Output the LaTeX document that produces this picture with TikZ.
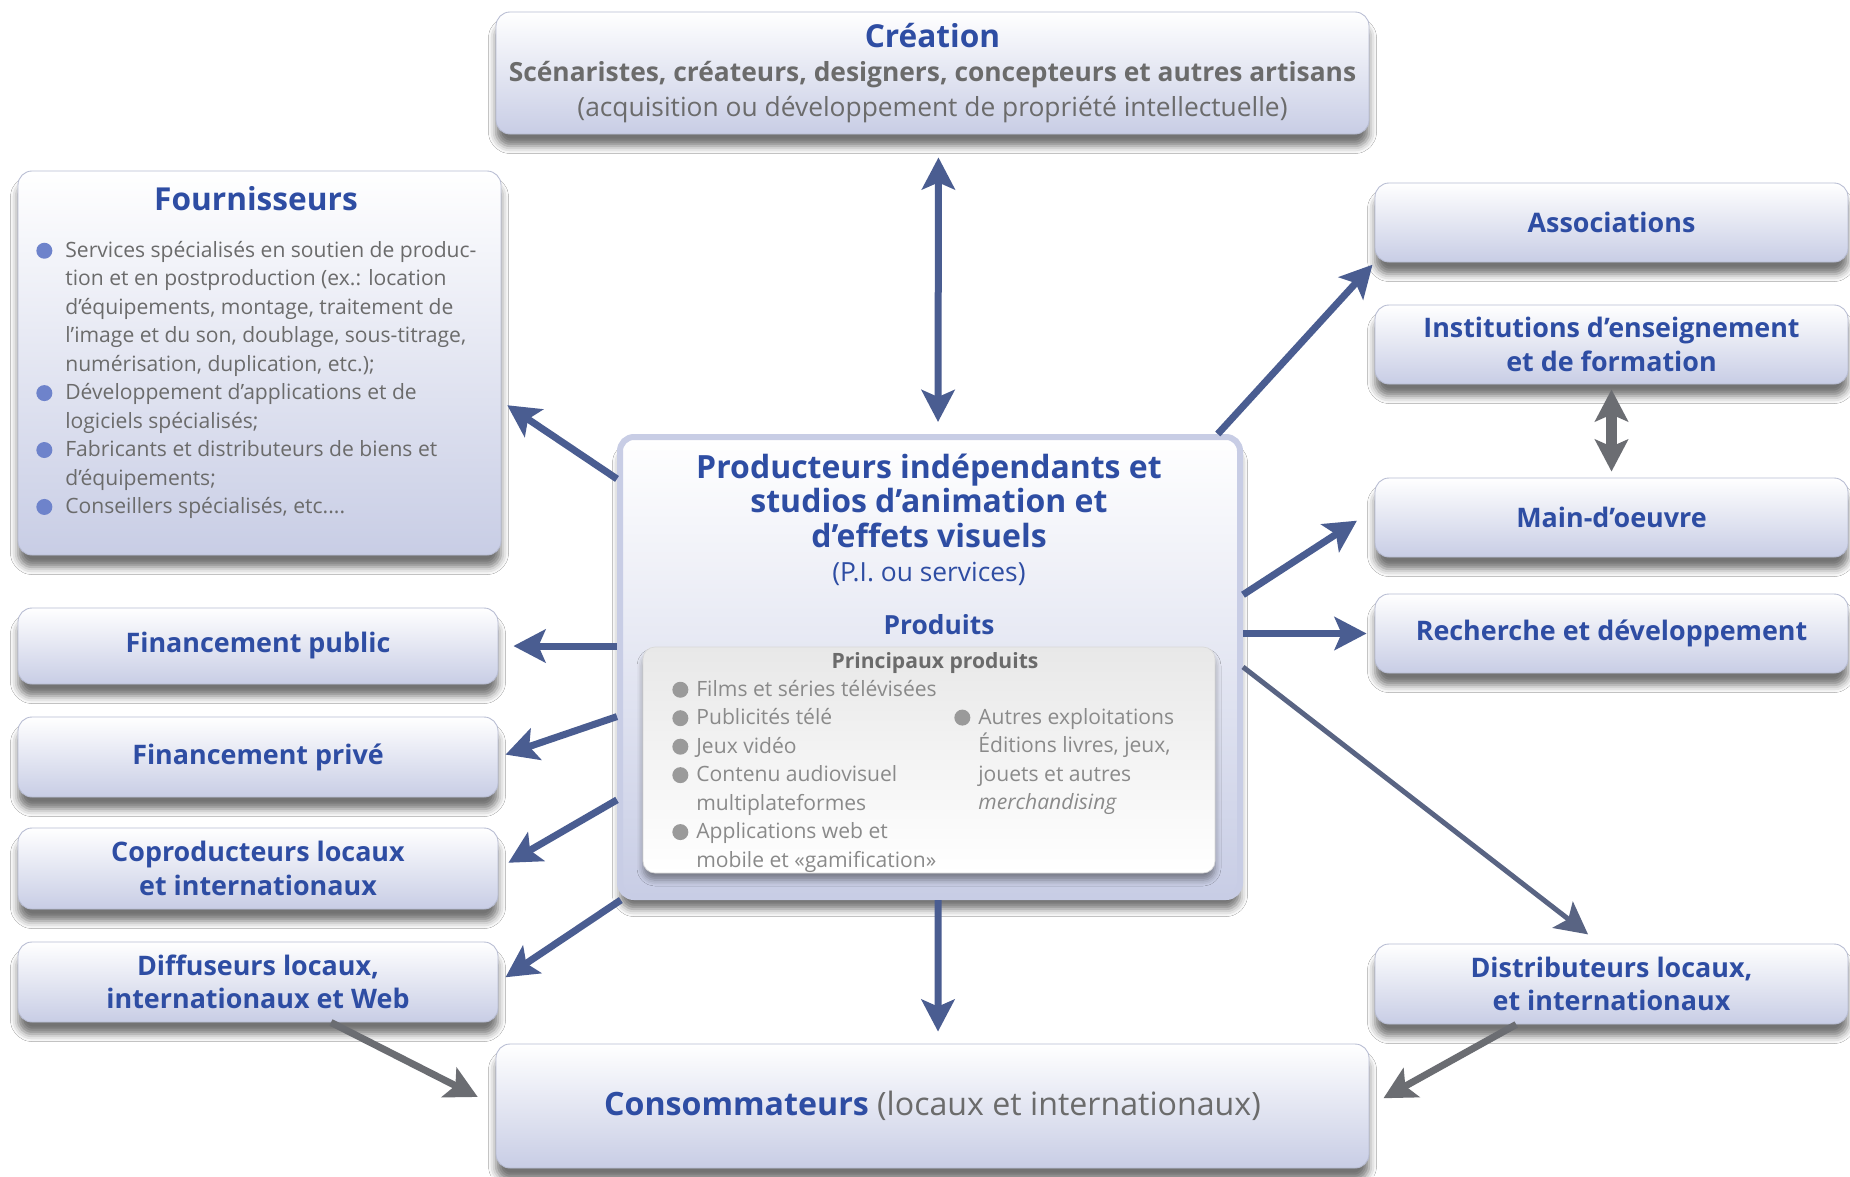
\documentclass[tikz,border=0pt]{standalone}
\usepackage{fontspec}
\setmainfont{Open Sans}
\usetikzlibrary{arrows.meta,shadows.blur}

\definecolor{bleuTitre}{HTML}{2E4DA3}
\definecolor{grisTexte}{HTML}{6B6B6B}
\definecolor{grisPale}{HTML}{8A8A8A}
\definecolor{lavande}{HTML}{C8CDE5}
\definecolor{bordBoite}{HTML}{B8BDD3}
\definecolor{flecheBleue}{HTML}{4A5D91}
\definecolor{flecheGrise}{HTML}{6B6D72}
\definecolor{puceBleue}{HTML}{6E83CB}
\definecolor{puceGrise}{HTML}{9A9A9A}

% puce ronde devant un item, retrait pour les lignes suivantes
\newcommand{\puce}[2]{\makebox[#2][l]{\tikz[baseline=-0.6ex]\fill[#1] (0,0) circle (1.6mm);}}
\newcommand{\retrait}[1]{\hspace*{#1}}

\tikzset{
  >={Stealth[length=6.4mm, width=6.6mm, inset=1.4mm]},
  boite/.style={rectangle, rounded corners=2.8mm, draw=bordBoite, line width=0.5pt,
    top color=white, bottom color=lavande,
    blur shadow={shadow xshift=0mm, shadow yshift=-2.4mm, shadow blur radius=1.5mm, shadow opacity=55},
    text=bleuTitre, align=center, inner sep=0pt,
    font=\bfseries\fontsize{15.3}{19}\selectfont},
  gauche/.style={boite, minimum width=96mm, minimum height=16mm},
  droite/.style={boite, minimum width=94.6mm, minimum height=15.8mm},
  liste/.style={anchor=north west, align=left, inner sep=0pt, text=grisTexte,
    font=\fontsize{12}{16.2}\selectfont},
  fleche/.style={draw=flecheBleue, line width=1.4mm, ->},
  flecheGr/.style={fleche, draw=flecheGrise},
}

\begin{document}
\begin{tikzpicture}[x=0.2mm, y=-0.2mm]
\fill[white] (0,0) rectangle (1850,1176);
\useasboundingbox (0,0) rectangle (1850,1176);

% Création
\node[boite, minimum width=174.6mm, minimum height=24.4mm, font=\fontsize{15}{19.6}\selectfont] (creation) at (932.5,73)
  {{\bfseries\fontsize{18}{19.6}\selectfont Création}\\
   {\bfseries\color{grisTexte}Scénaristes, créateurs, designers, concepteurs et autres artisans}\\
   {\color{grisTexte}(acquisition ou développement de propriété intellectuelle)}};

% Fournisseurs
\node[boite, minimum width=96.6mm, minimum height=76.8mm] (fournisseurs) at (259.5,363) {};
\node[text=bleuTitre, font=\bfseries\fontsize{18}{22}\selectfont] (titrefour) at (256,199) {Fournisseurs};
\node[liste] (listefour) at (36,241)
  {\puce{puceBleue}{5.8mm}Services spécialisés en soutien de produc-\\
   \retrait{5.8mm}tion et en postproduction (ex.: location\\
   \retrait{5.8mm}d’équipements, montage, traitement de\\
   \retrait{5.8mm}l’image et du son, doublage, sous-titrage,\\
   \retrait{5.8mm}numérisation, duplication, etc.);\\
   \puce{puceBleue}{5.8mm}Développement d’applications et de\\
   \retrait{5.8mm}logiciels spécialisés;\\
   \puce{puceBleue}{5.8mm}Fabricants et distributeurs de biens et\\
   \retrait{5.8mm}d’équipements;\\
   \puce{puceBleue}{5.8mm}Conseillers spécialisés, etc....};

% Partenaires à gauche
\node[gauche, minimum height=15.2mm] (finpublic) at (258,646) {Financement public};
\node[gauche] (finprive) at (258,757) {Financement privé};
\node[gauche, minimum height=16.2mm] (coprod) at (258,868.5) {Coproducteurs locaux\\et internationaux};
\node[gauche] (diffuseurs) at (258,982) {Diffuseurs locaux,\\internationaux et Web};

% Partenaires à droite
\node[droite] (associations) at (1611.5,222.5) {Associations};
\node[droite] (institutions) at (1611.5,344.5) {Institutions d’enseignement\\et de formation};
\node[droite] (maindoeuvre) at (1611.5,517.5) {Main-d’oeuvre};
\node[droite] (recherche) at (1611.5,633.5) {Recherche et développement};
\node[droite, minimum height=16mm] (distributeurs) at (1611.5,984) {Distributeurs locaux,\\et internationaux};

% Consommateurs
\node[boite, minimum width=174.6mm, minimum height=24.8mm, font=\fontsize{18.3}{22}\selectfont] (consommateurs) at (932.5,1106)
  {\textbf{Consommateurs} {\color{grisTexte}(locaux et internationaux)}};

% Producteurs et produits
\node[boite, minimum width=124mm, minimum height=92mm, draw=lavande, line width=1.2mm] (producteurs) at (930,667) {};
\node[text=bleuTitre, align=center, font=\bfseries\fontsize{18.2}{19.6}\selectfont] (titreprod) at (929,520)
  {Producteurs indépendants et\\studios d’animation et\\d’effets visuels\\
   {\mdseries\fontsize{15}{19.6}\selectfont(P.I. ou services)}};
\node[text=bleuTitre, font=\bfseries\fontsize{15}{18}\selectfont] (labelprod) at (939,625) {Produits};
\node[rectangle, rounded corners=2.4mm, draw=gray!30, top color=gray!18, bottom color=white,
  blur shadow={shadow xshift=0mm, shadow yshift=-1.4mm, shadow blur radius=1.2mm, shadow opacity=40},
  minimum width=114.4mm, minimum height=45.2mm] (produits) at (929,760) {};
\node[text=grisTexte, font=\bfseries\fontsize{12}{14}\selectfont] (titreprincipaux) at (935,663) {Principaux produits};
\node[liste, text=grisPale] (colgauche) at (672,680)
  {\puce{puceGrise}{4.8mm}Films et séries télévisées\\
   \puce{puceGrise}{4.8mm}Publicités télé\\
   \puce{puceGrise}{4.8mm}Jeux vidéo\\
   \puce{puceGrise}{4.8mm}Contenu audiovisuel\\
   \retrait{4.8mm}multiplateformes\\
   \puce{puceGrise}{4.8mm}Applications web et\\
   \retrait{4.8mm}mobile et «gamification»};
\node[liste, text=grisPale] (coldroite) at (954,708)
  {\puce{puceGrise}{4.8mm}Autres exploitations\\
   \retrait{4.8mm}Éditions livres, jeux,\\
   \retrait{4.8mm}jouets et autres\\
   \retrait{4.8mm}\textit{merchandising}};

% Flèches
\draw[fleche, <->, shorten <=4.6mm, shorten >=2.4mm] ([xshift=1.2mm]creation.south) -- ([xshift=1.6mm]producteurs.north);
\draw[fleche, shorten >=1.4mm] (producteurs.149) -- (fournisseurs.-9);
\draw[fleche, shorten >=3mm] (producteurs.west |- finpublic.east) -- (finpublic.east);
\draw[fleche, shorten >=1.5mm] (producteurs.189) -- (finprive.east);
\draw[fleche, shorten >=2.3mm] (producteurs.203) -- (coprod.east);
\draw[fleche, shorten >=1.7mm] (producteurs.217) -- (diffuseurs.east);
\draw[fleche, shorten >=2.4mm] ([xshift=1.6mm]producteurs.south) -- ([xshift=1.1mm]consommateurs.north);
\draw[fleche, shorten >=0.6mm] (producteurs.39) -- (associations.south west);
\draw[fleche, shorten >=4.2mm] (producteurs.13) -- (maindoeuvre.178);
\draw[fleche, shorten >=1.6mm] (producteurs.east |- recherche.west) -- (recherche.west);
\draw[fleche, draw=flecheBleue!55!flecheGrise, line width=1mm, shorten >=3mm] (producteurs.east) -- (distributeurs.106);

% Flèches grises
\draw[flecheGr, shorten >=4mm] (diffuseurs.-29) -- (consommateurs.west);
\draw[flecheGr, shorten >=3.2mm] (distributeurs.203) -- (consommateurs.east);
\draw[flecheGr, <->, line width=2.2mm, shorten <=1mm, shorten >=1.2mm] (institutions.south) -- (maindoeuvre.north);

\end{tikzpicture}
\end{document}
